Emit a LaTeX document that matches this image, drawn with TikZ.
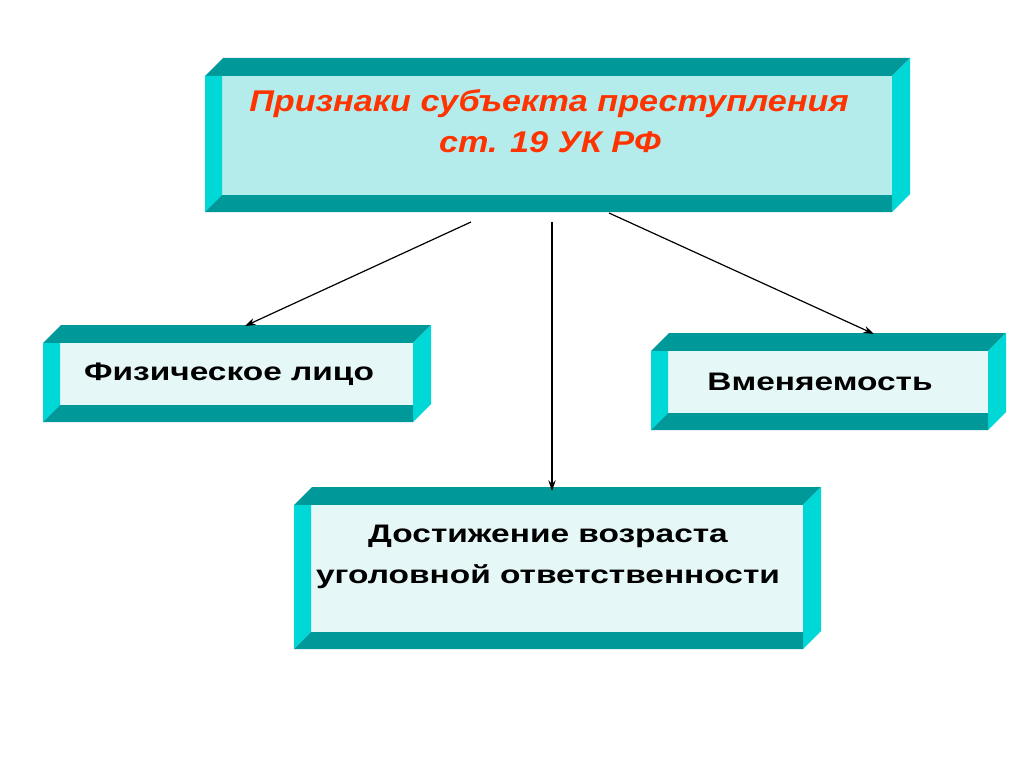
\documentclass[tikz,border=0pt]{standalone}
\usepackage{fontspec}
\setmainfont{Liberation Sans}
\usetikzlibrary{arrows.meta}

\definecolor{tealdark}{RGB}{0,153,153}
\definecolor{tealside}{RGB}{0,216,216}
\definecolor{facetop}{RGB}{180,236,236}
\definecolor{facelight}{RGB}{230,247,247}
\definecolor{titlered}{RGB}{255,51,0}

% slab box: x0, y0, x1, y1 (pixels), face colour
\newcommand{\slab}[5]{%
	\fill[tealdark] (#1,#2+18) -- (#1+18,#2) -- (#3,#2) -- (#3-18,#2+18) -- cycle;
	\fill[tealside] (#3-18,#2+18) -- (#3,#2) -- (#3,#4-18) -- (#3-18,#4) -- cycle;
	\fill[#5] (#1,#2+18) rectangle (#3-18,#4);
	\fill[tealside] (#1,#2+18) -- (#1+17,#2+18) -- (#1+17,#4-17) -- (#1,#4) -- cycle;
	\fill[tealdark] (#1,#4) -- (#1+17,#4-17) -- (#3-18,#4-17) -- (#3-18,#4) -- cycle;
}
% wide text as in the slide
\newcommand{\wideT}[1]{\scalebox{1.14}[1]{#1}}
\newcommand{\wideL}[1]{\scalebox{1.32}[1]{#1}}

\begin{document}
\begin{tikzpicture}[
		x=0.75pt, y=-0.75pt,
		title/.style={anchor=base, text=titlered, font=\bfseries\itshape\fontsize{22.5}{27}\selectfont},
		label/.style={anchor=base, text=black, font=\bfseries\fontsize{19}{23}\selectfont},
		link/.style={-{Stealth[length=8pt,width=5.5pt]}, line width=0.9pt, black}
		]
		\fill[white] (0,0) rectangle (1024,767);
		\useasboundingbox (0,0) rectangle (1024,767);
		
		% boxes
		\slab{205}{58}{910}{212}{facetop}
		\slab{43}{325}{431}{422}{facelight}
		\slab{651}{333}{1006}{430}{facelight}
		\slab{294}{487}{821}{649}{facelight}
		
		% texts
		\node[title] (head1) at (549,112) {\wideT{Признаки субъекта преступления}};
		\node[title] (head2) at (550,152) {\wideT{ст. 19 УК РФ}};
		\node[label] (person) at (229,380) {\wideL{Физическое лицо}};
		\node[label] (sanity) at (820,390) {\wideL{Вменяемость}};
		\node[label] (age1) at (548,542) {\wideL{Достижение возраста}};
		\node[label] (age2) at (548,583) {\wideL{уголовной ответственности}};
		
		% arrow ends
		\coordinate (fromL) at (471,222);
		\coordinate (fromC) at (552,222);
		\coordinate (fromR) at (609,213);
		\coordinate (toL) at (245,326);
		\coordinate (toC) at (552,491);
		\coordinate (toR) at (874,334);
		
		\draw[link] (fromL) -- (toL);
		\draw[link] (fromC) -- (toC);
		\draw[link] (fromR) -- (toR);
		
	\end{tikzpicture}
\end{document}
